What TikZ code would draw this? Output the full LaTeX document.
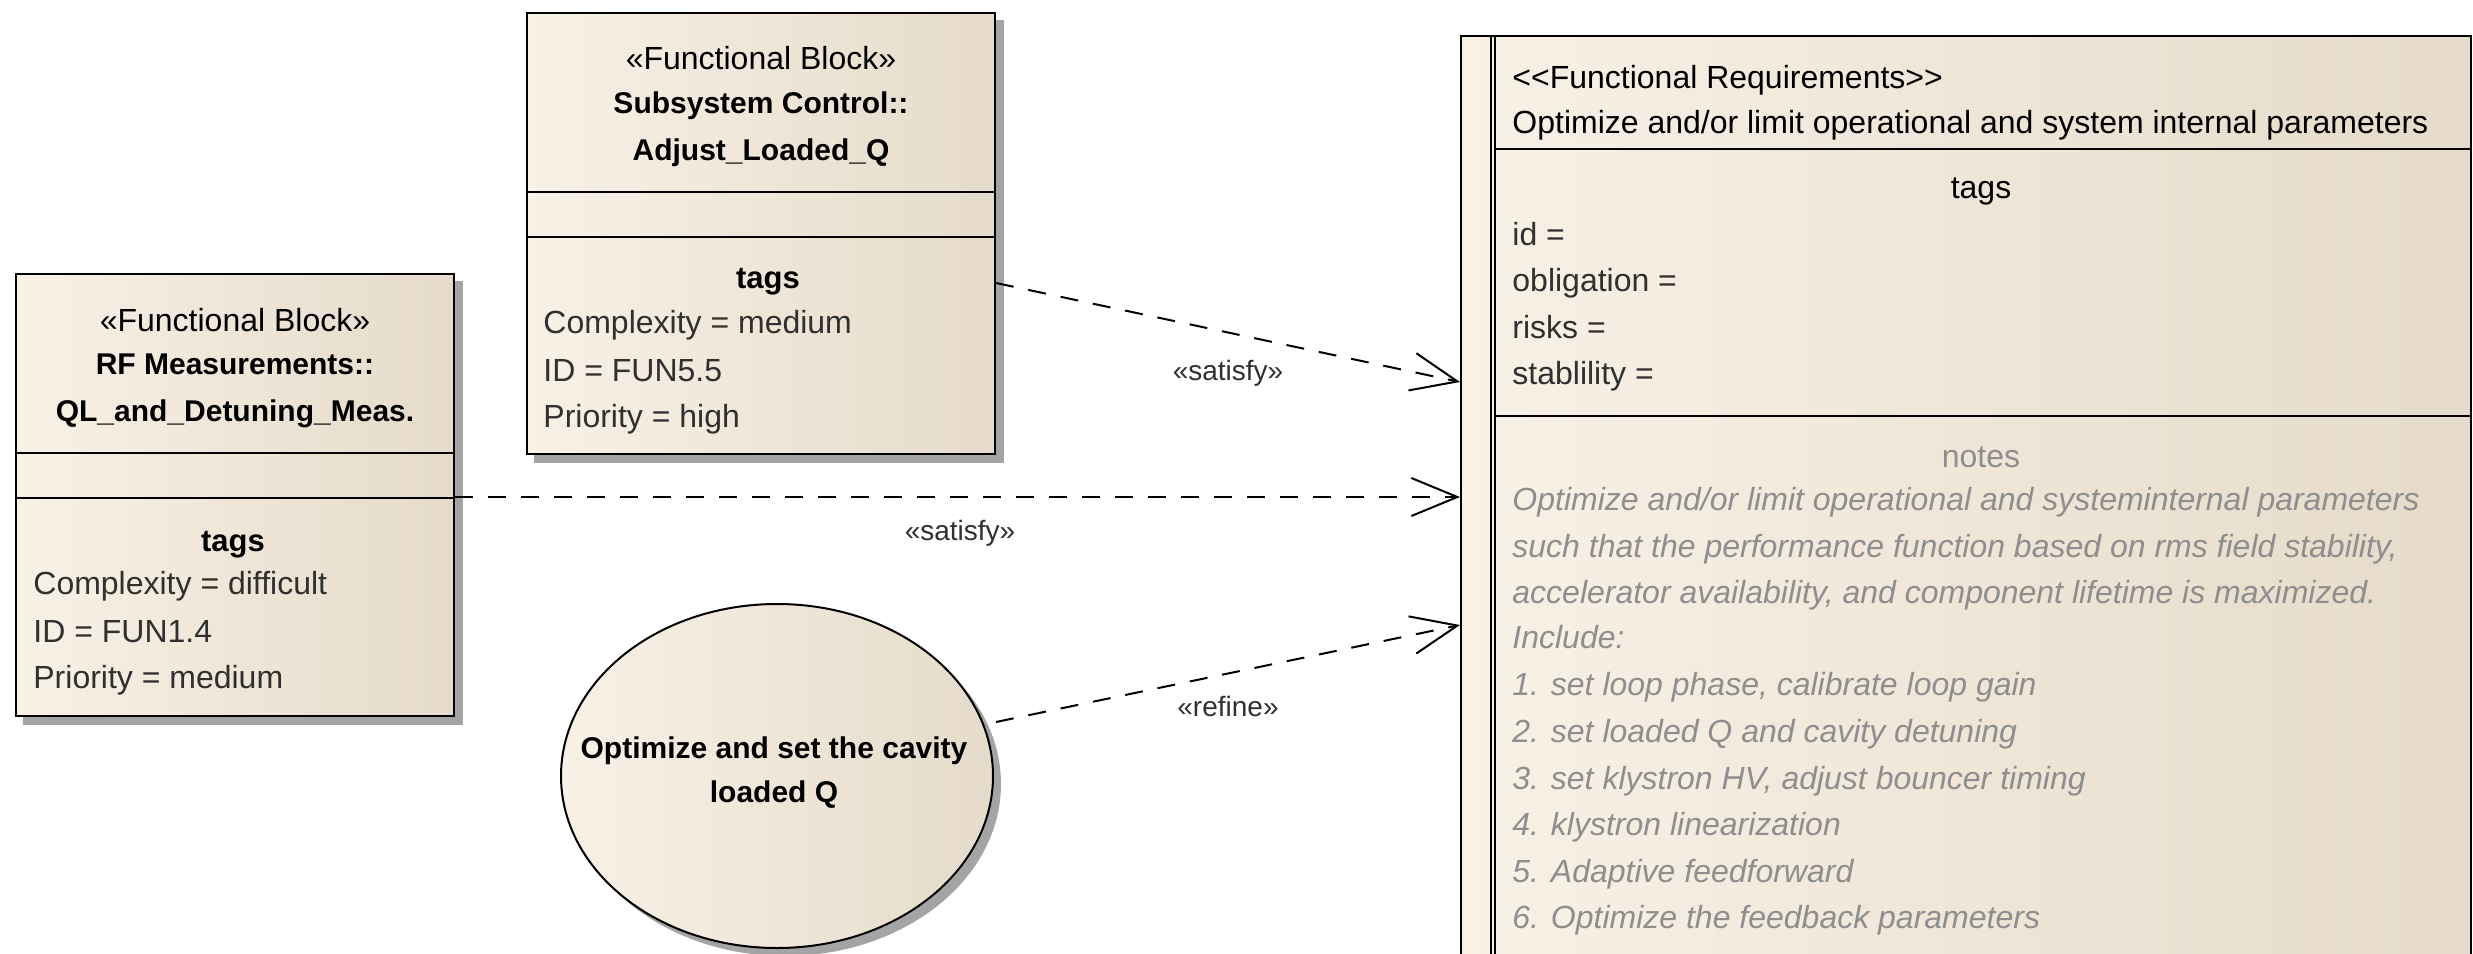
\documentclass[tikz,border=0pt]{standalone}
\usepackage{fontspec}
\setmainfont{Liberation Sans}
\usetikzlibrary{arrows.meta,backgrounds,shapes.geometric}

\definecolor{boxL}{HTML}{F8F1E6}
\definecolor{boxR}{HTML}{E6DBCA}
\definecolor{shadowgray}{HTML}{A4A4A4}
\definecolor{tagtxt}{HTML}{303030}
\definecolor{notetxt}{HTML}{8E8E8E}

\begin{document}
\begin{tikzpicture}[x=0.5pt,y=-0.5pt,
  box/.style={draw=black, line width=1pt, left color=boxL, right color=boxR, inner sep=0pt},
  sep/.style={draw=black, line width=1pt},
  stereo/.style={inner sep=0pt, anchor=base, font=\fontsize{16}{19}\selectfont},
  ttl/.style={inner sep=0pt, anchor=base, font=\fontsize{15}{18}\selectfont\bfseries},
  tagline/.style={inner sep=0pt, anchor=base west, text=tagtxt, font=\fontsize{16}{19}\selectfont},
  reqline/.style={inner sep=0pt, anchor=base west, font=\fontsize{16}{19}\selectfont},
  noteline/.style={inner sep=0pt, anchor=base west, text=notetxt, font=\fontsize{16}{19}\selectfont\itshape},
  rel/.style={draw=black, line width=1pt, dash pattern=on 9pt off 7.5pt,
    -{Straight Barb[length=23pt,width=19pt]}},
  rellbl/.style={inner sep=0pt, anchor=base, text=tagtxt, font=\fontsize{14}{16}\selectfont}
]
\useasboundingbox (0,0) rectangle (2473,953);
\clip (0,0) rectangle (2473,953);

% ---- blocks ----
\node[box, minimum width=219pt, minimum height=221pt] (meas) at (235,495) {};
\node[box, minimum width=234pt, minimum height=220.5pt] (ctrl) at (761,233.5) {};
\node[box, ellipse, minimum width=216pt, minimum height=172pt] (usecase) at (777,776) {};
\node[inner sep=0pt, align=center, font=\fontsize{15}{22}\selectfont\bfseries]
      (usecasetxt) at (774,773) {Optimize and set the cavity\\loaded Q};
\node[box, minimum width=505pt, minimum height=482pt] (req) at (1966,518) {};

% ---- background and drop shadows ----
\begin{scope}[on background layer]
  \fill[white] (0,0) rectangle (2473,953);
  \fill[shadowgray] ([xshift=4pt,yshift=-4pt]meas.south west) rectangle ([xshift=4pt,yshift=-4pt]meas.north east);
  \fill[shadowgray] ([xshift=4pt,yshift=-4pt]ctrl.south west) rectangle ([xshift=4pt,yshift=-4pt]ctrl.north east);
  \fill[shadowgray] ([xshift=4pt,yshift=-4pt]usecase.center) ellipse [x radius=216, y radius=172];
\end{scope}

% ---- RF Measurements block ----
\draw[sep] (16,453) -- (454,453);
\draw[sep] (16,498) -- (454,498);
\node[stereo] (measst) at (235,331) {«Functional Block»};
\node[ttl] (measn1) at (235,374) {RF Measurements::};
\node[ttl] (measn2) at (235,421) {QL\_and\_Detuning\_Meas.};
\node[ttl, font=\fontsize{15.5}{18}\selectfont\bfseries] (meastg) at (233,551) {tags};
\node[tagline] (measa) at (33,594) {Complexity = difficult};
\node[tagline] (measb) at (33,642) {ID = FUN1.4};
\node[tagline] (measc) at (33,688) {Priority = medium};

% ---- Subsystem Control block ----
\draw[sep] (527,192) -- (995,192);
\draw[sep] (527,237) -- (995,237);
\node[stereo] (ctrlst) at (761,69) {«Functional Block»};
\node[ttl] (ctrln1) at (761,113) {Subsystem Control::};
\node[ttl] (ctrln2) at (761,160) {Adjust\_Loaded\_Q};
\node[ttl, font=\fontsize{15.5}{18}\selectfont\bfseries] (ctrltg) at (768,288) {tags};
\node[tagline] (ctrla) at (543,333) {Complexity = medium};
\node[tagline] (ctrlb) at (543,381) {ID = FUN5.5};
\node[tagline] (ctrlc) at (543,427) {Priority = high};

% ---- Functional Requirements block ----
\draw[sep] (1491,36) -- (1491,1000);
\draw[sep] (1495,36) -- (1495,1000);
\draw[sep] (1495,149) -- (2471,149);
\draw[sep] (1495,416) -- (2471,416);
\node[reqline] (reqst) at (1512,88) {<{}<Functional Requirements>{}>};
\node[reqline] (reqname) at (1512,133) {Optimize and/or limit operational and system internal parameters};
\node[stereo] (reqtg) at (1981,198) {tags};
\node[reqline, text=tagtxt] (reqa) at (1512,245) {id =};
\node[reqline, text=tagtxt] (reqb) at (1512,291) {obligation =};
\node[reqline, text=tagtxt] (reqc) at (1512,338) {risks =};
\node[reqline, text=tagtxt] (reqd) at (1512,384) {stablility =};
\node[stereo, text=notetxt] (reqnt) at (1981,467) {notes};
\node[noteline] (n1) at (1512,510) {Optimize and/or limit operational and systeminternal parameters};
\node[noteline] (n2) at (1512,557) {such that the performance function based on rms field stability,};
\node[noteline] (n3) at (1512,603) {accelerator availability, and component lifetime is maximized.};
\node[noteline] (n4) at (1512,648) {Include:};
\node[noteline] (n5) at (1512,695) {1. set loop phase, calibrate loop gain};
\node[noteline] (n6) at (1512,742) {2. set loaded Q and cavity detuning};
\node[noteline] (n7) at (1512,789) {3. set klystron HV, adjust bouncer timing};
\node[noteline] (n8) at (1512,835) {4. klystron linearization};
\node[noteline] (n9) at (1512,882) {5. Adaptive feedforward};
\node[noteline] (n10) at (1512,928) {6. Optimize the feedback parameters};

% ---- relationships ----
\draw[rel] ([yshift=-24.75pt]ctrl.east) -- ([yshift=68pt]req.west);
\draw[rel] ([yshift=-1pt]meas.east) -- ([yshift=10.5pt]req.west);
\draw[rel] ([xshift=1pt,yshift=27pt]usecase.east) -- ([yshift=-53.5pt]req.west);
\node[rellbl] (lbl1) at (1228,380) {«satisfy»};
\node[rellbl] (lbl2) at (960,540) {«satisfy»};
\node[rellbl] (lbl3) at (1228,716) {«refine»};
\end{tikzpicture}
\end{document}
